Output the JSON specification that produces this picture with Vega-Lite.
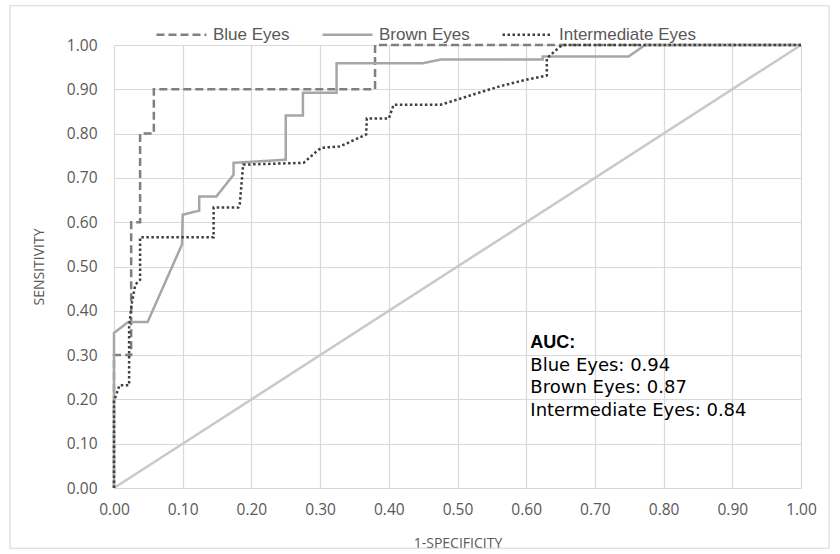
{
  "$schema": "https://vega.github.io/schema/vega-lite/v6.json",
  "width": 687,
  "height": 443,
  "autosize": {"type": "none"},
  "padding": {"left": 114, "top": 45, "right": 39, "bottom": 66},
  "background": "white",
  "config": {
    "view": {"stroke": null},
    "axis": {
      "grid": true, "gridColor": "#d9d9d9", "gridWidth": 1.2,
      "domain": false, "ticks": false, "tickSize": 0, "labelFlush": false, "labelOverlap": false,
      "labelFont": "Open Sans", "labelFontSize": 15.5, "labelColor": "#595959",
      "titleFont": "Open Sans", "titleFontSize": 14, "titleColor": "#595959", "titleFontWeight": "normal"
    }
  },
  "datasets": {
    "roc": [
      {"series": "Blue Eyes", "i": 0, "fpr": 0, "tpr": 0},
      {"series": "Blue Eyes", "i": 1, "fpr": 0, "tpr": 0.3},
      {"series": "Blue Eyes", "i": 2, "fpr": 0.025, "tpr": 0.3},
      {"series": "Blue Eyes", "i": 3, "fpr": 0.025, "tpr": 0.6},
      {"series": "Blue Eyes", "i": 4, "fpr": 0.038, "tpr": 0.6},
      {"series": "Blue Eyes", "i": 5, "fpr": 0.038, "tpr": 0.8},
      {"series": "Blue Eyes", "i": 6, "fpr": 0.058, "tpr": 0.8},
      {"series": "Blue Eyes", "i": 7, "fpr": 0.058, "tpr": 0.9},
      {"series": "Blue Eyes", "i": 8, "fpr": 0.38, "tpr": 0.9},
      {"series": "Blue Eyes", "i": 9, "fpr": 0.38, "tpr": 1.0},
      {"series": "Blue Eyes", "i": 10, "fpr": 1, "tpr": 1.0},
      {"series": "Brown Eyes", "i": 0, "fpr": 0, "tpr": 0},
      {"series": "Brown Eyes", "i": 1, "fpr": 0, "tpr": 0.35},
      {"series": "Brown Eyes", "i": 2, "fpr": 0.021, "tpr": 0.375},
      {"series": "Brown Eyes", "i": 3, "fpr": 0.049, "tpr": 0.375},
      {"series": "Brown Eyes", "i": 4, "fpr": 0.099, "tpr": 0.55},
      {"series": "Brown Eyes", "i": 5, "fpr": 0.1, "tpr": 0.617},
      {"series": "Brown Eyes", "i": 6, "fpr": 0.124, "tpr": 0.626},
      {"series": "Brown Eyes", "i": 7, "fpr": 0.124, "tpr": 0.658},
      {"series": "Brown Eyes", "i": 8, "fpr": 0.149, "tpr": 0.658},
      {"series": "Brown Eyes", "i": 9, "fpr": 0.174, "tpr": 0.707},
      {"series": "Brown Eyes", "i": 10, "fpr": 0.174, "tpr": 0.734},
      {"series": "Brown Eyes", "i": 11, "fpr": 0.25, "tpr": 0.741},
      {"series": "Brown Eyes", "i": 12, "fpr": 0.25, "tpr": 0.841},
      {"series": "Brown Eyes", "i": 13, "fpr": 0.275, "tpr": 0.841},
      {"series": "Brown Eyes", "i": 14, "fpr": 0.275, "tpr": 0.892},
      {"series": "Brown Eyes", "i": 15, "fpr": 0.324, "tpr": 0.892},
      {"series": "Brown Eyes", "i": 16, "fpr": 0.324, "tpr": 0.959},
      {"series": "Brown Eyes", "i": 17, "fpr": 0.45, "tpr": 0.959},
      {"series": "Brown Eyes", "i": 18, "fpr": 0.475, "tpr": 0.967},
      {"series": "Brown Eyes", "i": 19, "fpr": 0.624, "tpr": 0.967},
      {"series": "Brown Eyes", "i": 20, "fpr": 0.624, "tpr": 0.974},
      {"series": "Brown Eyes", "i": 21, "fpr": 0.749, "tpr": 0.974},
      {"series": "Brown Eyes", "i": 22, "fpr": 0.773, "tpr": 1.0},
      {"series": "Brown Eyes", "i": 23, "fpr": 1, "tpr": 1.0},
      {"series": "Intermediate Eyes", "i": 0, "fpr": 0, "tpr": 0},
      {"series": "Intermediate Eyes", "i": 1, "fpr": 0, "tpr": 0.196},
      {"series": "Intermediate Eyes", "i": 2, "fpr": 0.008, "tpr": 0.232},
      {"series": "Intermediate Eyes", "i": 3, "fpr": 0.022, "tpr": 0.232},
      {"series": "Intermediate Eyes", "i": 4, "fpr": 0.022, "tpr": 0.365},
      {"series": "Intermediate Eyes", "i": 5, "fpr": 0.026, "tpr": 0.418},
      {"series": "Intermediate Eyes", "i": 6, "fpr": 0.031, "tpr": 0.459},
      {"series": "Intermediate Eyes", "i": 7, "fpr": 0.038, "tpr": 0.47},
      {"series": "Intermediate Eyes", "i": 8, "fpr": 0.038, "tpr": 0.566},
      {"series": "Intermediate Eyes", "i": 9, "fpr": 0.145, "tpr": 0.566},
      {"series": "Intermediate Eyes", "i": 10, "fpr": 0.145, "tpr": 0.633},
      {"series": "Intermediate Eyes", "i": 11, "fpr": 0.181, "tpr": 0.633},
      {"series": "Intermediate Eyes", "i": 12, "fpr": 0.183, "tpr": 0.64},
      {"series": "Intermediate Eyes", "i": 13, "fpr": 0.188, "tpr": 0.73},
      {"series": "Intermediate Eyes", "i": 14, "fpr": 0.276, "tpr": 0.734},
      {"series": "Intermediate Eyes", "i": 15, "fpr": 0.295, "tpr": 0.76},
      {"series": "Intermediate Eyes", "i": 16, "fpr": 0.302, "tpr": 0.768},
      {"series": "Intermediate Eyes", "i": 17, "fpr": 0.329, "tpr": 0.771},
      {"series": "Intermediate Eyes", "i": 18, "fpr": 0.367, "tpr": 0.798},
      {"series": "Intermediate Eyes", "i": 19, "fpr": 0.368, "tpr": 0.834},
      {"series": "Intermediate Eyes", "i": 20, "fpr": 0.40, "tpr": 0.834},
      {"series": "Intermediate Eyes", "i": 21, "fpr": 0.407, "tpr": 0.865},
      {"series": "Intermediate Eyes", "i": 22, "fpr": 0.475, "tpr": 0.865},
      {"series": "Intermediate Eyes", "i": 23, "fpr": 0.514, "tpr": 0.884},
      {"series": "Intermediate Eyes", "i": 24, "fpr": 0.562, "tpr": 0.907},
      {"series": "Intermediate Eyes", "i": 25, "fpr": 0.601, "tpr": 0.922},
      {"series": "Intermediate Eyes", "i": 26, "fpr": 0.630, "tpr": 0.931},
      {"series": "Intermediate Eyes", "i": 27, "fpr": 0.630, "tpr": 0.97},
      {"series": "Intermediate Eyes", "i": 28, "fpr": 0.652, "tpr": 1.0},
      {"series": "Intermediate Eyes", "i": 29, "fpr": 1, "tpr": 1.0}
    ],
    "diag": [
      {"fpr": 0, "tpr": 0},
      {"fpr": 1, "tpr": 1}
    ],
    "notes": [
      {"label": "AUC:", "bold": true, "fpr": 0.606, "tpr": 0.328},
      {"label": "Blue Eyes: 0.94", "bold": false, "fpr": 0.606, "tpr": 0.275},
      {"label": "Brown Eyes: 0.87", "bold": false, "fpr": 0.606, "tpr": 0.225},
      {"label": "Intermediate Eyes: 0.84", "bold": false, "fpr": 0.606, "tpr": 0.174}
    ]
  },
  "layer": [
    {
      "data": {"values": [{}]},
      "mark": {"type": "rect", "fill": "transparent", "stroke": "#d9d9d9", "strokeWidth": 1.2, "clip": false},
      "encoding": {
        "x": {"datum": -0.1514, "type": "quantitative"},
        "x2": {"datum": 1.0408},
        "y": {"datum": -0.136, "type": "quantitative"},
        "y2": {"datum": 1.0886}
      }
    },
    {
      "data": {"name": "diag"},
      "mark": {"type": "line", "color": "#c9c9c9", "strokeWidth": 2.5},
      "encoding": {
        "x": {"field": "fpr", "type": "quantitative"},
        "y": {"field": "tpr", "type": "quantitative"}
      }
    },
    {
      "data": {"name": "roc"},
      "mark": {"type": "line", "strokeWidth": 2.5, "strokeCap": "butt"},
      "encoding": {
        "x": {
          "field": "fpr", "type": "quantitative",
          "scale": {"domain": [0, 1], "nice": false, "zero": false},
          "axis": {"values": [0, 0.1, 0.2, 0.3, 0.4, 0.5, 0.6, 0.7, 0.8, 0.9, 1.0], "format": ".2f", "title": "1-SPECIFICITY", "labelPadding": 14, "titlePadding": 19}
        },
        "y": {
          "field": "tpr", "type": "quantitative",
          "scale": {"domain": [0, 1], "nice": false, "zero": false},
          "axis": {"values": [0, 0.1, 0.2, 0.3, 0.4, 0.5, 0.6, 0.7, 0.8, 0.9, 1.0], "format": ".2f", "title": "SENSITIVITY", "labelPadding": 17, "titlePadding": 20}
        },
        "order": {"field": "i", "type": "quantitative"},
        "color": {
          "field": "series", "type": "nominal",
          "scale": {"domain": ["Blue Eyes", "Brown Eyes", "Intermediate Eyes"], "range": ["#7f7f7f", "#a6a6a6", "#404040"]},
          "legend": {
            "title": null, "orient": "none", "legendX": 41, "legendY": -37, "direction": "horizontal",
            "symbolType": "stroke", "symbolSize": 2500, "symbolStrokeWidth": 2.5,
            "labelFont": "Liberation Sans", "labelFontSize": 17, "labelColor": "#595959",
            "labelOffset": 5, "columnPadding": 27, "padding": 0
          }
        },
        "strokeDash": {
          "field": "series", "type": "nominal",
          "scale": {"domain": ["Blue Eyes", "Brown Eyes", "Intermediate Eyes"], "range": [[8, 4], [1, 0], [2.5, 2.5]]},
          "legend": {
            "title": null, "orient": "none", "legendX": 41, "legendY": -37, "direction": "horizontal",
            "symbolType": "stroke", "symbolSize": 2500, "symbolStrokeWidth": 2.5,
            "labelFont": "Liberation Sans", "labelFontSize": 17, "labelColor": "#595959",
            "labelOffset": 5, "columnPadding": 27, "padding": 0
          }
        }
      }
    },
    {
      "data": {"name": "notes"},
      "transform": [{"filter": "datum.bold"}],
      "mark": {"type": "text", "align": "left", "baseline": "middle", "font": "Liberation Sans", "fontSize": 18, "fontWeight": "bold", "color": "#000000"},
      "encoding": {
        "x": {"field": "fpr", "type": "quantitative"},
        "y": {"field": "tpr", "type": "quantitative"},
        "text": {"field": "label"}
      }
    },
    {
      "data": {"name": "notes"},
      "transform": [{"filter": "!datum.bold"}],
      "mark": {"type": "text", "align": "left", "baseline": "middle", "font": "DejaVu Sans", "fontSize": 18, "color": "#000000"},
      "encoding": {
        "x": {"field": "fpr", "type": "quantitative"},
        "y": {"field": "tpr", "type": "quantitative"},
        "text": {"field": "label"}
      }
    }
  ]
}
